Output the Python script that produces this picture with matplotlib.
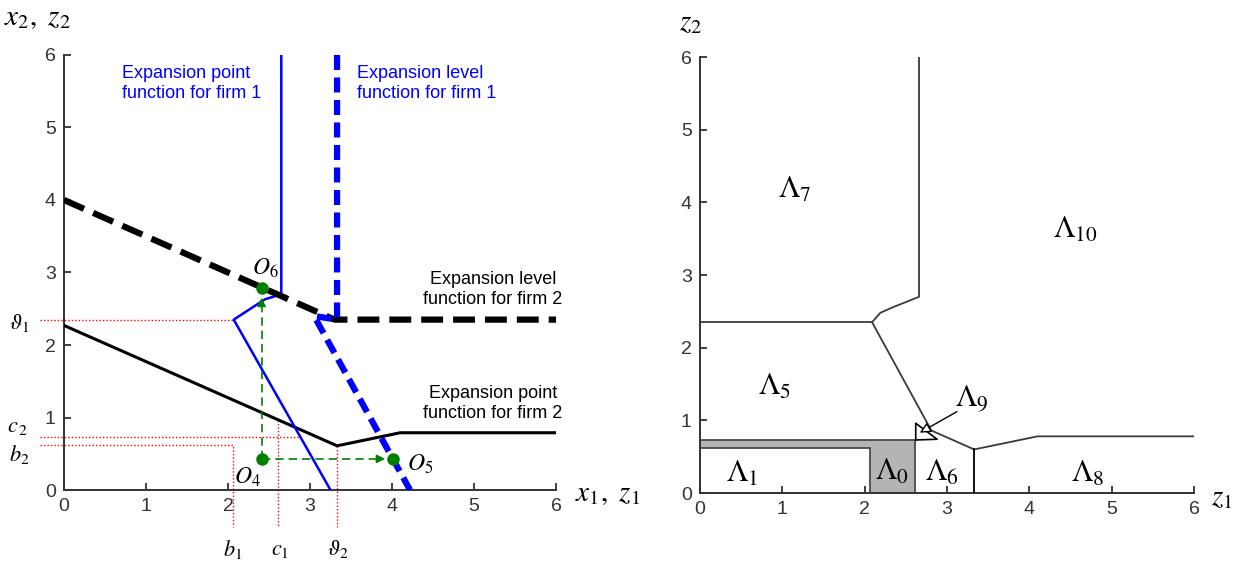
import numpy as np
import matplotlib.pyplot as plt

plt.rcParams['mathtext.fontset'] = 'stix'
plt.rcParams['font.family'] = ['Liberation Sans', 'DejaVu Sans']

# --- left panel: expansion functions ---
# expansion level function for firm 2 (black dashed)
lvl2_x = [0.0, 3.3, 6.0]
lvl2_y = [4.0, 2.35, 2.35]
# expansion level function for firm 1 (blue dashed)
lvl1_x = [3.33, 3.33, 3.05, 4.22]
lvl1_y = [6.0, 2.35, 2.4, 0.0]
# expansion point function for firm 1 (blue solid)
pt1_x = [2.65, 2.65, 2.45, 2.07, 3.25]
pt1_y = [6.0, 2.7, 2.63, 2.35, 0.0]
# expansion point function for firm 2 (black solid)
pt2_x = [0.0, 3.33, 4.1, 6.0]
pt2_y = [2.27, 0.61, 0.79, 0.79]

theta1, theta2 = 2.35, 3.33
b1, b2 = 2.06, 0.62
c1, c2 = 2.61, 0.73

o4 = (2.41, 0.43)
o5 = (4.01, 0.43)
o6 = (2.41, 2.79)

# --- right panel: regions ---
bnd_top_x = [2.66, 2.66, 2.35, 2.19, 2.09]
bnd_top_y = [6.0, 2.7, 2.56, 2.48, 2.35]
bnd_mid_x = [0.0, 2.09]
bnd_mid_y = [2.35, 2.35]
bnd_low_x = [2.09, 2.81, 3.33, 4.1, 6.0]
bnd_low_y = [2.35, 0.86, 0.6, 0.78, 0.78]
bnd_vert_x = [3.33, 3.33]
bnd_vert_y = [0.0, 0.6]
lam0_x = [0.0, 2.06, 2.06, 2.61, 2.61, 0.0]
lam0_y = [0.62, 0.62, 0.0, 0.0, 0.73, 0.73]
lam9_x = [2.62, 2.62, 2.88, 2.62]
lam9_y = [0.73, 0.96, 0.74, 0.73]

region_names = ['0', '1', '5', '6', '7', '8', '10']
region_x = [2.33, 0.51, 0.91, 2.94, 1.15, 4.71, 4.56]
region_y = [0.29, 0.27, 1.46, 0.28, 4.17, 0.27, 3.62]

ticks = [0, 1, 2, 3, 4, 5, 6]

fig = plt.figure(figsize=(12.52, 5.65), dpi=100)
ax1 = fig.add_axes([0.0511, 0.1327, 0.393, 0.770])
ax2 = fig.add_axes([0.5591, 0.1274, 0.3946, 0.7717])

for ax in (ax1, ax2):
    ax.set_xlim(0, 6)
    ax.set_ylim(0, 6)
    ax.set_xticks(ticks)
    ax.set_yticks(ticks)
    for s in ('top', 'right'):
        ax.spines[s].set_visible(False)
    for s in ('left', 'bottom'):
        ax.spines[s].set_color('#333333')
        ax.spines[s].set_linewidth(1.4)
    ax.tick_params(direction='in', length=5, width=1.3, colors='#333333',
                   labelsize=14, pad=6)

# left panel
ax1.plot(pt2_x, pt2_y, color='black', lw=2.2, zorder=3)
ax1.plot(pt1_x, pt1_y, color='#0000ff', lw=1.8, zorder=3)
ax1.plot(lvl2_x, lvl2_y, color='black', lw=4.5, dashes=(3.5, 1.6), zorder=4)
ax1.plot(lvl1_x, lvl1_y, color='#0000ff', lw=4.5, dashes=(2.4, 1.2), zorder=4)

red = dict(color='red', lw=1.0, ls=(0, (1, 1.5)), clip_on=False, zorder=2)
c1_top = np.interp(c1, pt2_x, pt2_y)
c2_end = np.interp(c2, [0, 2.35], [3.25, 2.07])
ax1.plot([-0.29, 2.07], [theta1, theta1], **red)
ax1.plot([-0.29, c2_end], [c2, c2], **red)
ax1.plot([-0.29, b1, b1], [b2, b2, -0.51], **red)
ax1.plot([c1, c1], [c1_top, -0.51], **red)
ax1.plot([theta2, theta2], [0.61, -0.51], **red)

green = '#008000'
ax1.plot([o4[0], o4[0]], [o4[1], 2.6], color=green, lw=1.2, dashes=(5, 3), zorder=5)
ax1.plot([o4[0], 3.85], [o4[1], o4[1]], color=green, lw=1.2, dashes=(5, 3), zorder=5)
ax1.annotate('', xy=(o4[0], 2.69), xytext=(o4[0], 2.55),
             arrowprops=dict(arrowstyle='-|>', color=green, lw=1.0,
                             mutation_scale=13), zorder=5)
ax1.annotate('', xy=(3.95, o4[1]), xytext=(3.8, o4[1]),
             arrowprops=dict(arrowstyle='-|>', color=green, lw=1.0,
                             mutation_scale=13), zorder=5)
ax1.plot([o4[0], o5[0], o6[0]], [o4[1], o5[1], o6[1]], 'o', color=green,
         ms=8, zorder=6, clip_on=False)

ax1.text(2.46, 3.06, r'$O_6$', fontsize=17, ha='center', va='center')
ax1.text(2.24, 0.17, r'$O_4$', fontsize=17, ha='center', va='center')
ax1.text(4.34, 0.36, r'$O_5$', fontsize=17, ha='center', va='center')

ax1.text(0.71, 5.61, 'Expansion point\nfunction for firm 1', color='#0000ff',
         fontsize=13, ha='left', va='center', linespacing=1.25)
ax1.text(3.57, 5.61, 'Expansion level\nfunction for firm 1', color='#0000ff',
         fontsize=13, ha='left', va='center', linespacing=1.25)
ax1.text(5.23, 2.77, 'Expansion level\nfunction for firm 2', color='black',
         fontsize=13, ha='center', va='center', linespacing=1.25)
ax1.text(5.23, 1.19, 'Expansion point\nfunction for firm 2', color='black',
         fontsize=13, ha='center', va='center', linespacing=1.25)

side = dict(fontsize=16, ha='center', va='center', clip_on=False)
ax1.text(-0.54, 2.3, r'$\vartheta_1$', **side)
ax1.text(-0.56, 0.87, r'$c_{\,2}$', **side)
ax1.text(-0.54, 0.49, r'$b_2$', **side)
ax1.text(b1, -0.82, r'$b_1$', **side)
ax1.text(c1 + 0.02, -0.82, r'$c_1$', **side)
ax1.text(theta2 + 0.01, -0.82, r'$\vartheta_2$', **side)

ax1.text(-0.055, 1.087, r'$x_2,\ z_2$', transform=ax1.transAxes,
         fontsize=21, ha='center', va='center')
ax1.text(1.104, -0.007, r'$x_1,\ z_1$', transform=ax1.transAxes,
         fontsize=21, ha='center', va='center')

# right panel
edge = '#3a3a3a'
ax2.fill(lam0_x, lam0_y, facecolor='#b4b4b4', edgecolor='#4a4a4a', lw=1.3, zorder=2)
ax2.plot(bnd_top_x, bnd_top_y, color=edge, lw=1.3, zorder=3)
ax2.plot(bnd_mid_x, bnd_mid_y, color=edge, lw=1.3, zorder=3)
ax2.plot(bnd_low_x, bnd_low_y, color=edge, lw=1.3, zorder=3)
ax2.plot(bnd_vert_x, bnd_vert_y, color='black', lw=1.3, zorder=3)
ax2.plot(lam9_x, lam9_y, color='black', lw=1.2, zorder=3)

for name, x, y in zip(region_names, region_x, region_y):
    ax2.text(x, y, r'$\Lambda_{%s}$' % name, fontsize=22, ha='center', va='center')
ax2.text(3.3, 1.3, r'$\Lambda_9$', fontsize=22, ha='center', va='center')
ax2.annotate('', xy=(2.67, 0.83), xytext=(3.12, 1.12),
             arrowprops=dict(arrowstyle='-|>', color='black', lw=1.0,
                             fc='white', mutation_scale=16, shrinkA=0, shrinkB=0))

ax2.text(-0.02, 1.08, r'$z_2$', transform=ax2.transAxes,
         fontsize=21, ha='center', va='center')
ax2.text(1.057, -0.01, r'$z_1$', transform=ax2.transAxes,
         fontsize=21, ha='center', va='center')

fig.savefig('out.png', dpi=100)
